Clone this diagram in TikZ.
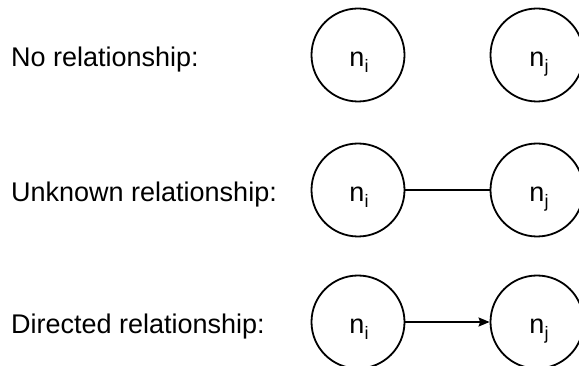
\documentclass[tikz,border=0pt]{standalone}
\usepackage{fontspec}
\setmainfont{Liberation Sans}
\usetikzlibrary{arrows.meta}
% vertex name: an "n" with a lowered, smaller index
\newcommand{\nsub}[1]{n\raisebox{-6pt}{\fontsize{18}{18}\selectfont #1}}
\tikzset{
  vertex/.style={circle, draw, line width=1.8pt, minimum size=93pt, inner sep=0pt},
  vlabel/.style={anchor=base, inner sep=0pt, font=\fontsize{27}{32}\selectfont},
  rowtext/.style={anchor=base west, inner sep=0pt, font=\fontsize{27}{32}\selectfont},
  edge/.style={line width=1.8pt},
  arc/.style={line width=1.8pt, -{Stealth[length=11pt, width=9pt, inset=1.5pt]}}
}
\begin{document}
\begin{tikzpicture}[x=1pt, y=-1pt]
  \useasboundingbox (0,0) rectangle (579,366);
  \begin{scope}
    \clip (0,0) rectangle (579,366);

    % row captions
    \node[rowtext] (t1) at (11,67) {No relationship:};
    \node[rowtext] (t2) at (11,202) {Unknown relationship:};
    \node[rowtext] (t3) at (11,334) {Directed relationship:};

    % vertices
    \node[vertex] (a1) at (358,55) {};
    \node[vertex] (b1) at (537,55) {};
    \node[vertex] (a2) at (358,190) {};
    \node[vertex] (b2) at (537,190) {};
    \node[vertex] (a3) at (358,322) {};
    \node[vertex] (b3) at (537,322) {};

    % vertex names
    \node[vlabel] (la1) at (359,67) {\nsub{i}};
    \node[vlabel] (lb1) at (539,67) {\nsub{j}};
    \node[vlabel] (la2) at (359,202) {\nsub{i}};
    \node[vlabel] (lb2) at (539,202) {\nsub{j}};
    \node[vlabel] (la3) at (359,334) {\nsub{i}};
    \node[vlabel] (lb3) at (539,334) {\nsub{j}};

    % connectors
    \draw[edge] (a2) -- (b2);
    \draw[arc] (a3) -- (b3);
  \end{scope}
\end{tikzpicture}
\end{document}
